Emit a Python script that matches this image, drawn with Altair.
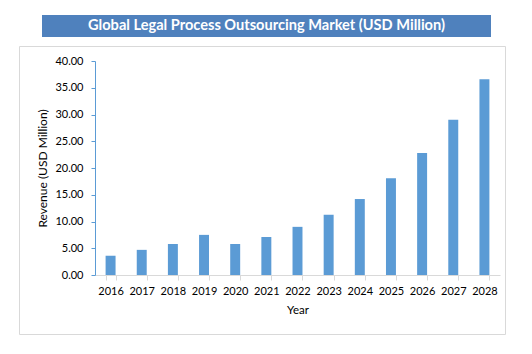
import altair as alt
import pandas as pd

years = ["2016", "2017", "2018", "2019", "2020", "2021", "2022",
         "2023", "2024", "2025", "2026", "2027", "2028"]
revenue = [3.6, 4.7, 5.8, 7.5, 5.8, 7.1, 9.0, 11.25, 14.2, 18.1, 22.8, 29.0, 36.6]
y_ticks = [0, 5, 10, 15, 20, 25, 30, 35, 40]
title_text = "Global Legal Process Outsourcing Market (USD Million)"

df = pd.DataFrame({"Year": years, "Revenue": revenue})
FONT = "Lato"

W, H = 405, 214
PL, PT = 95, 61

border = alt.Chart(pd.DataFrame({"k": [0]})).mark_rect(
    fill="transparent", stroke="#D9D9D9", strokeWidth=1
).encode(
    x=alt.value(19.5 - PL), x2=alt.value(505.5 - PL),
    y=alt.value(46.5 - PT), y2=alt.value(334.5 - PT)
)

title_box = alt.Chart(pd.DataFrame({"k": [0]})).mark_rect(
    fill="#4F81BD"
).encode(
    x=alt.value(42 - PL), x2=alt.value(491 - PL),
    y=alt.value(15 - PT), y2=alt.value(37 - PT)
)

title_txt = alt.Chart(pd.DataFrame({"t": [title_text]})).mark_text(
    color="white", font=FONT, fontWeight="bold", fontSize=14.6,
    align="center", baseline="middle"
).encode(
    text="t:N", x=alt.value(266.5 - PL), y=alt.value(26 - PT)
)

bars = alt.Chart(df).mark_bar(color="#5B9BD5").encode(
    x=alt.X("Year:N", sort=years,
            scale=alt.Scale(paddingInner=0.68, paddingOuter=0.34),
            axis=alt.Axis(title="Year", labelAngle=0, tickBand="extent",
                          domainColor="#D9D9D9", tickColor="#D9D9D9",
                          tickSize=5, labelPadding=5, titlePadding=8,
                          labelFont=FONT, labelFontSize=11, labelColor="#000000",
                          titleFont=FONT, titleFontSize=11.5, titleFontWeight="normal",
                          titleColor="#000000", zindex=1)),
    y=alt.Y("Revenue:Q",
            scale=alt.Scale(domain=[0, 40], nice=False),
            axis=alt.Axis(title="Revenue (USD Million)", values=y_ticks, format=".2f",
                          grid=False, domainColor="#5B9BD5", tickColor="#5B9BD5",
                          tickSize=4, labelPadding=8, titlePadding=5,
                          labelFont=FONT, labelFontSize=11, labelColor="#000000",
                          titleFont=FONT, titleFontSize=12, titleFontWeight="normal",
                          titleColor="#000000", zindex=1))
)

chart = alt.layer(border, title_box, title_txt, bars).properties(
    width=W, height=H,
    autosize=alt.AutoSizeParams(type="none"),
    padding={"left": PL, "top": PT, "right": 532 - PL - W, "bottom": 354 - PT - H},
    background="white"
).configure_view(stroke=None)

chart.save("out.html", embed_options={"renderer": "svg", "actions": False})
